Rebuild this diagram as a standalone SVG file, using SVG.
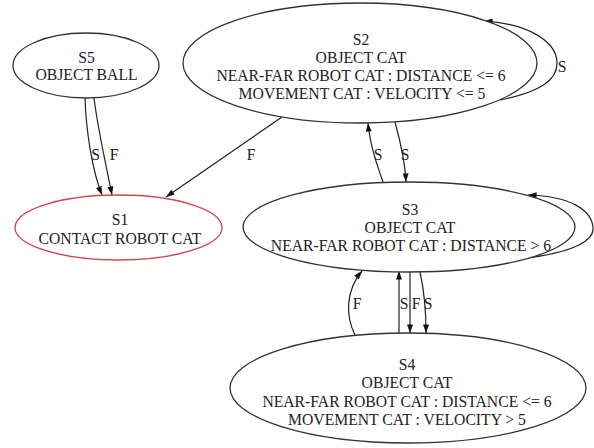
<svg xmlns="http://www.w3.org/2000/svg" width="594" height="448" viewBox="0 0 594 448">
<style>
.node ellipse{fill:#fff;stroke:#333;stroke-width:1.3}
#S1 ellipse{stroke:#d04545}
text{font-family:"Liberation Serif","Times New Roman",serif;font-size:15.7px;fill:#222;text-anchor:middle}
.edges path{fill:none;stroke:#222;stroke-width:1.2;marker-end:url(#arr)}
</style>
<defs>
<marker id="arr" markerUnits="userSpaceOnUse" viewBox="0 0 10 7" refX="10" refY="3.5" markerWidth="9" markerHeight="6" orient="auto">
<path d="M0,0 L10,3.5 L0,7 z" fill="#111"/>
</marker>
</defs>
<rect width="594" height="448" fill="#fff"/>
<g class="edges">
<path d="M85,98 C86,130 92,170 102,195"/>
<path d="M94,98 C98,130 106,165 112,195"/>
<path d="M282,117 L166,197"/>
<path d="M383,182 C377,165 370,145 368,123"/>
<path d="M395,122 C400,140 405,160 406,182"/>
<path d="M500,100 C540,92 558,80 557,62 C556,42 530,24 484,21"/>
<path d="M527,258 C575,252 594,240 593,228 C592,210 570,196 528,195"/>
<path d="M355,335 C345,315 346,290 362,271"/>
<path d="M399,333 L399,271"/>
<path d="M410,272 L410,333"/>
<path d="M420,272 C424,290 426,310 426,333"/>
<text x="95.5" y="160">S</text>
<text x="114" y="160">F</text>
<text x="251" y="160">F</text>
<text x="378" y="160">S</text>
<text x="405" y="160">S</text>
<text x="562" y="72">S</text>
<text x="357" y="309">F</text>
<text x="404" y="309">S</text>
<text x="416" y="309">F</text>
<text x="428" y="309">S</text>
</g>
<g id="S5" class="node">
<ellipse cx="86" cy="65.5" rx="73" ry="32.5"/>
<text x="86.5" y="63">S5</text>
<text x="86.5" y="80">OBJECT BALL</text>
</g>
<g id="S2" class="node">
<ellipse cx="360" cy="63" rx="177" ry="60"/>
<text x="361" y="45">S2</text>
<text x="361" y="63">OBJECT CAT</text>
<text x="361" y="81">NEAR-FAR ROBOT CAT : DISTANCE &lt;= 6</text>
<text x="362" y="98.5">MOVEMENT CAT : VELOCITY &lt;= 5</text>
</g>
<g id="S1" class="node">
<ellipse cx="118.5" cy="227.5" rx="103.5" ry="32.5"/>
<text x="120" y="225">S1</text>
<text x="120" y="244">CONTACT ROBOT CAT</text>
</g>
<g id="S3" class="node">
<ellipse cx="409" cy="227" rx="166" ry="45"/>
<text x="410" y="215">S3</text>
<text x="410" y="233">OBJECT CAT</text>
<text x="411" y="251">NEAR-FAR ROBOT CAT : DISTANCE &gt; 6</text>
</g>
<g id="S4" class="node">
<ellipse cx="408" cy="388" rx="178" ry="55"/>
<text x="407" y="370">S4</text>
<text x="407" y="388">OBJECT CAT</text>
<text x="407" y="407">NEAR-FAR ROBOT CAT : DISTANCE &lt;= 6</text>
<text x="407" y="425">MOVEMENT CAT : VELOCITY &gt; 5</text>
</g>
</svg>
